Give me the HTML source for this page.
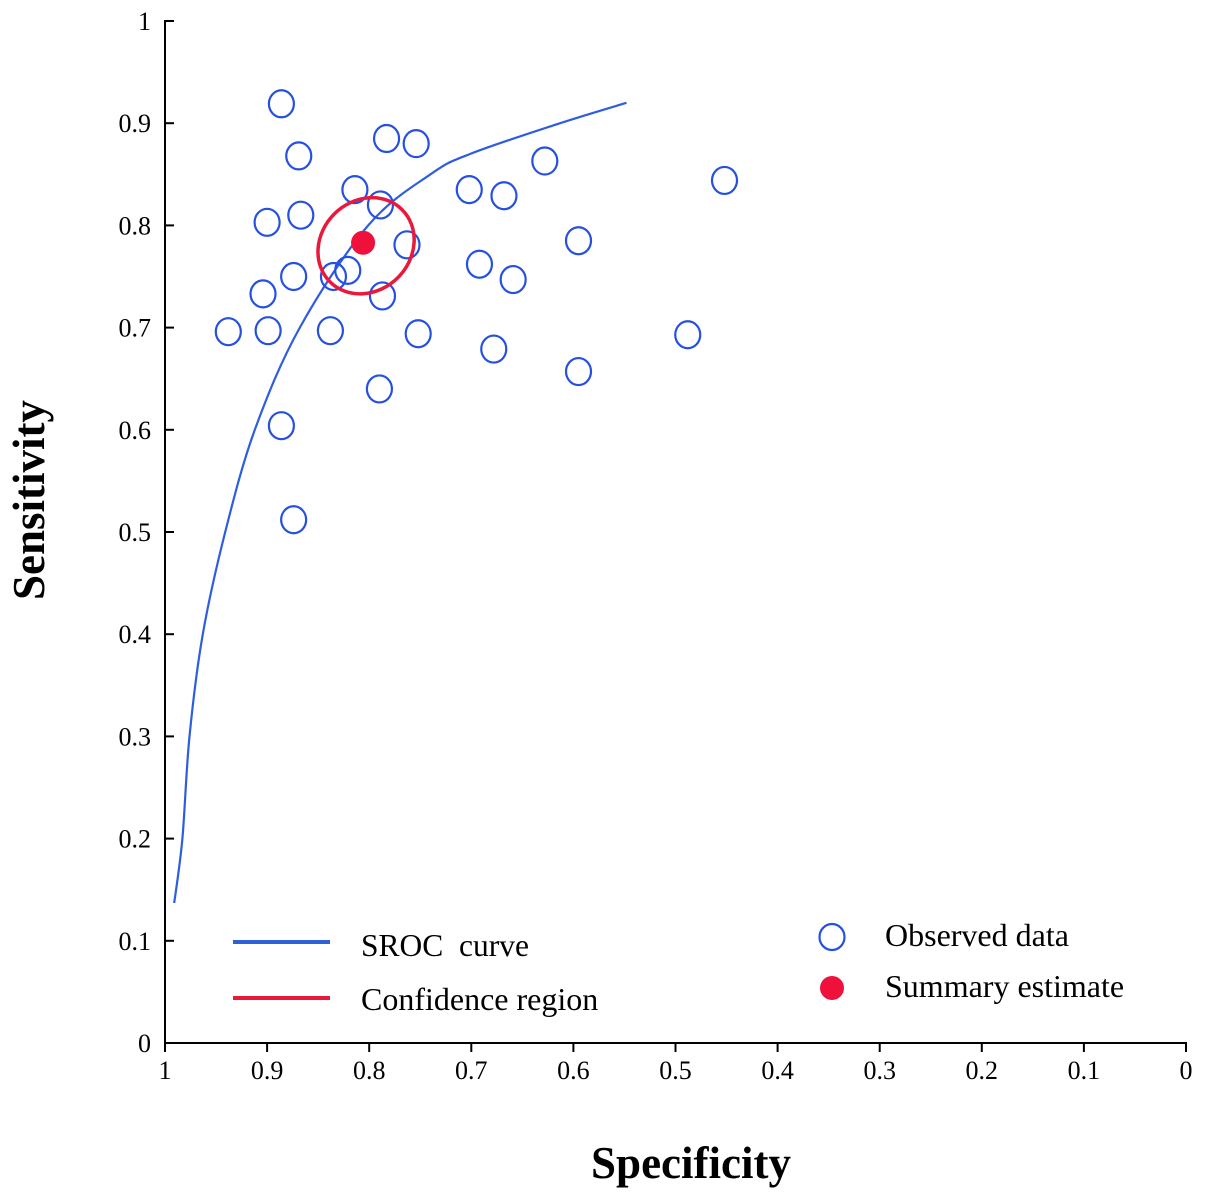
<!DOCTYPE html>
<html><head><meta charset="utf-8"><style>
body{margin:0;background:#fff}
svg text{font-family:"Liberation Serif",serif}
</style></head><body>
<svg id="chart" width="1205" height="1199" xmlns="http://www.w3.org/2000/svg">
<g id="axes"></g><g id="marks"></g>
<text x="44" y="500" font-size="45" font-weight="bold" text-anchor="middle" transform="rotate(-90 44 500)">Sensitivity</text>
<text x="691" y="1178" font-size="45" font-weight="bold" text-anchor="middle">Specificity</text>
<g>
<line x1="233" y1="942" x2="330" y2="942" stroke="#3060d8" stroke-width="4"/>
<text x="361" y="956" font-size="31.5" xml:space="preserve">SROC  curve</text>
<line x1="233" y1="998" x2="330" y2="998" stroke="#e8193c" stroke-width="4"/>
<text x="361" y="1010" font-size="32">Confidence region</text>
<ellipse cx="832" cy="937" rx="12.5" ry="13" fill="none" stroke="#2550e0" stroke-width="2.2"/>
<text x="885" y="946" font-size="32">Observed data</text>
<circle cx="832" cy="988" r="12" fill="#f0103c"/>
<text x="885" y="997" font-size="32">Summary estimate</text>
</g>
</svg>
<script>
const ticks=[0,0.1,0.2,0.3,0.4,0.5,0.6,0.7,0.8,0.9,1];
const tickLabels=["0","0.1","0.2","0.3","0.4","0.5","0.6","0.7","0.8","0.9","1"];
const obsSpec=[0.886,0.869,0.783,0.754,0.628,0.452,0.814,0.702,0.668,0.789,0.867,0.900,0.763,0.595,0.821,0.835,0.874,0.692,0.659,0.904,0.787,0.938,0.899,0.838,0.752,0.678,0.488,0.595,0.790,0.886,0.874];
const obsSens=[0.919,0.868,0.885,0.880,0.863,0.844,0.835,0.835,0.829,0.820,0.810,0.803,0.781,0.785,0.756,0.750,0.750,0.762,0.747,0.733,0.731,0.696,0.697,0.697,0.694,0.679,0.693,0.657,0.640,0.604,0.512];
const curveSpec=[0.991,0.983,0.976,0.963,0.941,0.912,0.868,0.801,0.740,0.701,0.613,0.548];
const curveSens=[0.137,0.2,0.3,0.4,0.5,0.6,0.7,0.8,0.85,0.87,0.9,0.92];
const summarySpec=[0.806];
const summarySens=[0.783];
const NS="http://www.w3.org/2000/svg";
const xs=v=>165+(1-v)*1021, ys=v=>1043-v*1022;
function mk(t,a,p){const e=document.createElementNS(NS,t);for(const k in a)e.setAttribute(k,a[k]);p.appendChild(e);return e;}
const ax=document.getElementById('axes'), mg=document.getElementById('marks');
let l=mk('line',{x1:165,y1:20,x2:165,y2:1044,stroke:'#000','stroke-width':2},ax);


l=mk('line',{x1:164,y1:1043,x2:1187,y2:1043,stroke:'#000','stroke-width':2},ax);


ticks.forEach((t,i)=>{
 let e=mk('line',{x1:165,y1:ys(t),x2:174,y2:ys(t),stroke:'#000','stroke-width':2},ax);
 
 
 let tx=mk('text',{x:151,y:ys(t)+9,'font-size':26,'text-anchor':'end'},ax);tx.textContent=tickLabels[i];
 
 
 e=mk('line',{x1:xs(t),y1:1043,x2:xs(t),y2:1052,stroke:'#000','stroke-width':2},ax);
 
 
 tx=mk('text',{x:xs(t),y:1079,'font-size':26,'text-anchor':'middle'},ax);tx.textContent=tickLabels[i];
 
 
});
const P=curveSpec.map((s,i)=>[xs(s),ys(curveSens[i])]);
let d='M'+P[0][0].toFixed(1)+','+P[0][1].toFixed(1);
for(let i=0;i<P.length-1;i++){
 const p0=P[Math.max(0,i-1)],p1=P[i],p2=P[i+1],p3=P[Math.min(P.length-1,i+2)];
 const c1=[p1[0]+(p2[0]-p0[0])/6,p1[1]+(p2[1]-p0[1])/6];
 const c2=[p2[0]-(p3[0]-p1[0])/6,p2[1]-(p3[1]-p1[1])/6];
 d+=` C${c1[0].toFixed(1)},${c1[1].toFixed(1)} ${c2[0].toFixed(1)},${c2[1].toFixed(1)} ${p2[0].toFixed(1)},${p2[1].toFixed(1)}`;
}
let c=mk('path',{d:d,fill:'none',stroke:'#2f5de0','stroke-width':2.2},mg);


obsSpec.forEach((s,i)=>{
 const p=mk('ellipse',{cx:xs(s),cy:ys(obsSens[i]),rx:12.5,ry:13.5,fill:'none',stroke:'#2550e0','stroke-width':2.2},mg);
 
 
});
const cx=xs(summarySpec[0])+3, cy=ys(summarySens[0])+3;
let el=mk('ellipse',{cx:cx,cy:cy,rx:51,ry:45,transform:`rotate(-45 ${cx} ${cy})`,fill:'none',stroke:'#e8193c','stroke-width':3.5},mg);


let s=mk('circle',{cx:xs(summarySpec[0]),cy:ys(summarySens[0]),r:12,fill:'#f0103c'},mg);


</script>
</body></html>
